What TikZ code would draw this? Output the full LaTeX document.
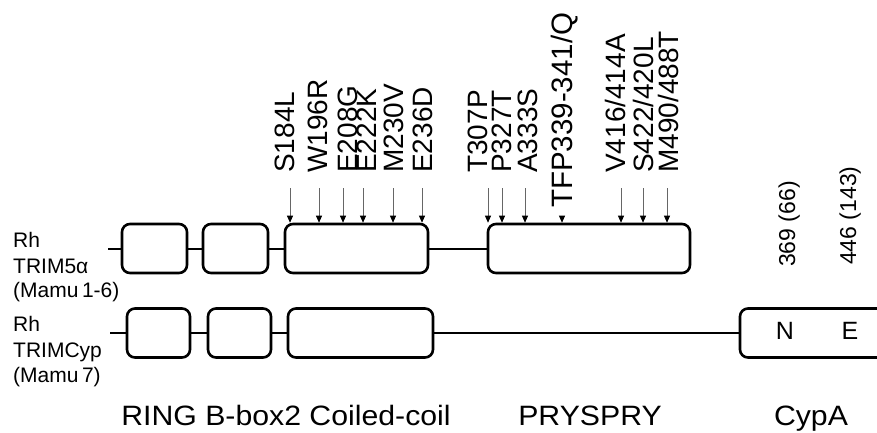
\documentclass[tikz,border=0pt]{standalone}
\usepackage{graphicx}
\usepackage{fontspec}
\setmainfont{Liberation Sans}
\usetikzlibrary{arrows.meta}

\tikzset{
  dom/.style={draw, line width=2.6pt, rounded corners=8pt, inner sep=0pt,
    minimum height=49pt},
  link/.style={line width=2pt},
  mut/.style={draw=black!60, line width=0.8pt,
    -{Triangle[length=7pt,width=6pt,color=black]}},
  mutlab/.style={rotate=90, anchor=base west, inner sep=0pt,
    font=\fontsize{28}{30}\selectfont},
  poslab/.style={rotate=90, anchor=base west, inner sep=0pt,
    font=\fontsize{23}{26}\selectfont},
  side/.style={anchor=base west, inner sep=0pt,
    font=\fontsize{21}{25}\selectfont},
  bottom/.style={anchor=base, inner sep=0pt,
    font=\fontsize{28}{30}\selectfont}
}

\begin{document}
\begin{tikzpicture}[x=1pt,y=-1pt]
  \useasboundingbox (0,0) rectangle (877,432);
  \clip (0,0) rectangle (877,432);
  % Rh TRIM5alpha
  \coordinate (s1) at (108,248.5);
  \node[dom, minimum width=65pt] (ra) at (154.5,248.5) {};
  \node[dom, minimum width=65pt] (rb) at (235.5,248.5) {};
  \node[dom, minimum width=143pt] (rc) at (356.5,248.5) {};
  \node[dom, minimum width=202pt] (rp) at (589,248.5) {};
  \draw[link] (s1) -- (ra.west);
  \draw[link] (ra.east) -- (rb.west);
  \draw[link] (rb.east) -- (rc.west);
  \draw[link] (rc.east) -- (rp.west);
  % Rh TRIMCyp
  \coordinate (s2) at (110,333);
  \node[dom, minimum width=63pt] (ca) at (158.5,333) {};
  \node[dom, minimum width=63pt] (cb) at (239.5,333) {};
  \node[dom, minimum width=145pt] (cc) at (360.5,333) {};
  \node[dom, minimum width=200pt] (cyp) at (840,333) {};
  \draw[link] (s2) -- (ca.west);
  \draw[link] (ca.east) -- (cb.west);
  \draw[link] (cb.east) -- (cc.west);
  \draw[link] (cc.east) -- (cyp.west);
  \node[inner sep=0pt, font=\fontsize{25}{28}\selectfont] (cn) at (785,331) {N};
  \node[inner sep=0pt, font=\fontsize{25}{28}\selectfont] (ce) at (850,331) {E};

  \foreach \y/\t [count=\i] in {247/Rh, 273/TRIM5α, 297/{(Mamu\,1-6)}}
    {\node[side] (lt\i) at (13,\y) {\t};}
  \foreach \y/\t [count=\i] in {331/Rh, 357/TRIMCyp, 382/{(Mamu\,7)}}
    {\node[side] (lc\i) at (13,\y) {\t};}

  % mutations
  \foreach \a/\l/\n [count=\i] in {290/284/S184L, 319/317/W196R,
      343/347/E208G, 363/366/E222K, 393/393/M230V, 422/422/E236D}
    {\coordinate (m\i) at (\a,188);
     \draw[mut] (m\i) -- (m\i |- rc.north);
     \node[mutlab] (ml\i) at (\l+10,173) {\n};}
  \foreach \a/\l/\n [count=\i] in {488/477/T307P, 502/501/P327T,
      525/527/A333S, 621/615/{V416/414A}, 643/643/{S422/420L},
      667/668/{M490/488T}}
    {\coordinate (p\i) at (\a,188);
     \draw[mut] (p\i) -- (p\i |- rp.north);
     \node[mutlab] (pl\i) at (\l+10,173) {\n};}
  \coordinate (tfp) at (562,216);
  \draw[mut] (tfp) -- (tfp |- rp.north);
  \node[mutlab, font=\fontsize{29.5}{32}\selectfont] (tfplab) at (572.5,208)
    {TFP339-341/Q};

  \node[poslab] (n369) at (795,267) {369 (66)};
  \node[poslab] (n446) at (856,265) {446 (143)};

  \foreach \p/\n [count=\i] in {286/RING B-box2 Coiled-coil, 590/PRYSPRY,
      811/CypA}
    {\node[bottom] (b\i) at (\p,425) {\scalebox{1.08}[1]{\n}};}
\end{tikzpicture}
\end{document}
